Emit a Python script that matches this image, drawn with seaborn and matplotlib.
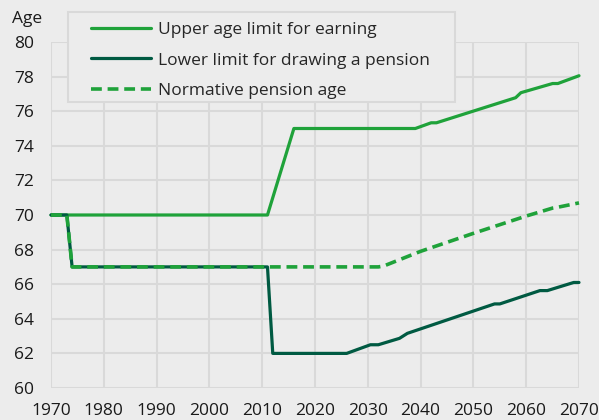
import matplotlib
matplotlib.use("Agg")
import matplotlib.pyplot as plt
from matplotlib.patches import Rectangle
import seaborn as sns

# breakpoints
upper_years = [1970, 2011, 2016, 2039, 2042, 2043, 2058, 2059, 2065, 2066, 2070]
upper_age = [70, 70, 75, 75, 75.33, 75.33, 76.78, 77.07, 77.6, 77.6, 78.05]

lower_years = [1970, 1973, 1974, 2011, 2012, 2026, 2030.5, 2032, 2036, 2037.5,
               2054, 2055, 2062.6, 2064, 2069, 2070]
lower_age = [70, 70, 67, 67, 62, 62, 62.5, 62.5, 62.87, 63.16,
             64.86, 64.86, 65.63, 65.63, 66.1, 66.1]

norm_years = [1970, 1973, 1974, 2032, 2033, 2040, 2050, 2060, 2065, 2066, 2070]
norm_age = [70, 70, 67, 67, 67.05, 67.9, 68.94, 69.94, 70.4, 70.45, 70.7]

labels = ["Upper age limit for earning",
          "Lower limit for drawing a pension",
          "Normative pension age"]

bright = "#1fa23a"
dark = "#005a42"
bg = "#ececec"
gridc = "#d9d9d9"

sns.set_theme(style="whitegrid", rc={
    "axes.facecolor": bg, "figure.facecolor": bg,
    "grid.color": gridc, "grid.linewidth": 1.5,
    "axes.edgecolor": gridc,
})
plt.rcParams["font.family"] = ["Open Sans", "DejaVu Sans"]

W, H = 599, 420
fig = plt.figure(figsize=(5.99, 4.20), dpi=100)
ax = fig.add_axes([51 / W, 1 - 388 / H, (579 - 51) / W, (388 - 42) / H])

sns.lineplot(x=upper_years, y=upper_age, ax=ax, color=bright, lw=2.3,
             label=labels[0], clip_on=False)
sns.lineplot(x=lower_years, y=lower_age, ax=ax, color=dark, lw=2.3,
             label=labels[1], clip_on=False)
sns.lineplot(x=norm_years, y=norm_age, ax=ax, color=bright, lw=2.6,
             linestyle=(0, (3, 1.6)), label=labels[2], clip_on=False)

ax.set_xlim(1970, 2070)
ax.set_ylim(60, 80)
ax.set_xticks(range(1970, 2071, 10))
ax.set_yticks(range(60, 81, 2))
ax.tick_params(axis="both", length=0, labelsize=12.5, colors="#1a1a1a")
ax.tick_params(axis="y", pad=12)
ax.tick_params(axis="x", pad=11)
ax.set_xlabel("")
ax.set_ylabel("")
for s in ax.spines.values():
    s.set_visible(False)

# legend box drawn separately so the inner spacing matches
ax.legend_.remove()
fig.patches.append(Rectangle((68 / W, 1 - 102 / H), (455 - 68) / W, 90 / H,
                             transform=fig.transFigure, facecolor=bg,
                             edgecolor=gridc, lw=1.5, zorder=3))
h, l = ax.get_legend_handles_labels()
leg = fig.legend(h, l, loc="upper left", bbox_to_anchor=(91 / W, 1 - 22 / H),
                 borderaxespad=0, borderpad=0, fontsize=12.5, handlelength=3.45,
                 handletextpad=0.42, labelspacing=0.82, frameon=False)
leg.set_zorder(4)

fig.text(12 / W, 1 - 19 / H, "Age", fontsize=12.5, va="center", ha="left",
         color="#1a1a1a")

fig.savefig("out.png", dpi=100, facecolor=bg)
